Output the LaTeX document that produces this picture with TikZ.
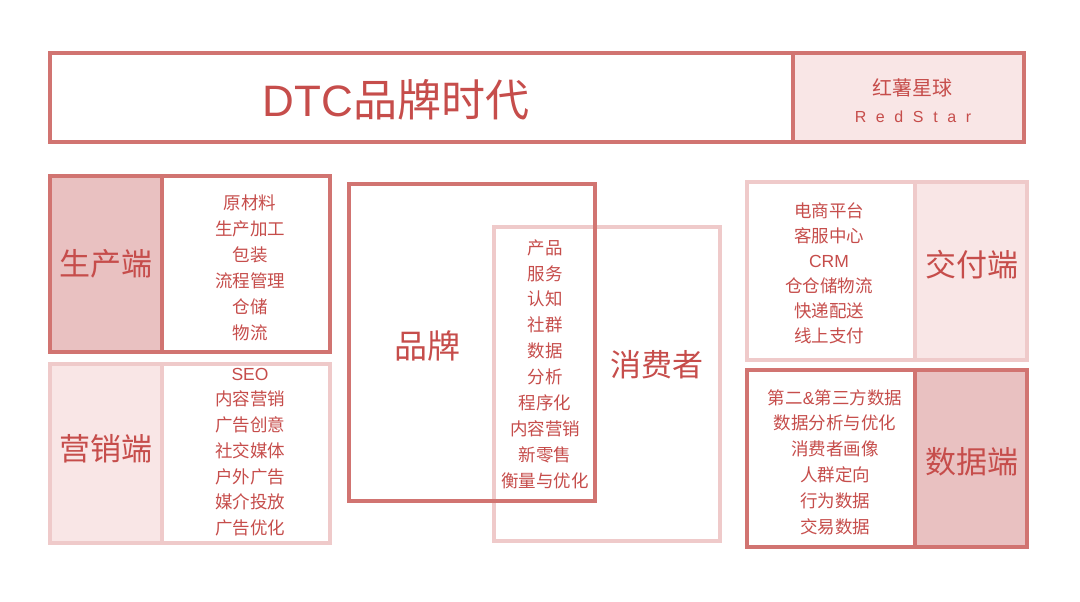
\documentclass[tikz,border=0pt]{standalone}
\usepackage{fontspec}
\setmainfont{Noto Sans CJK SC}
\newfontfamily\latinsp{Liberation Sans}[LetterSpace=60]
\newfontfamily\latn{Liberation Sans}
\definecolor{dk}{HTML}{D17471}
\definecolor{lt}{HTML}{EFCACA}
\definecolor{dfill}{HTML}{E9C1C1}
\definecolor{lfill}{HTML}{F9E6E6}
\definecolor{txt}{HTML}{C64D4B}
\begin{document}
\begin{tikzpicture}[x=1pt,y=-1pt,
  dkline/.style={draw=dk,line width=3.5pt},
  ltline/.style={draw=lt,line width=3.5pt},
  biglabel/.style={text=txt,inner sep=0pt,font=\fontsize{31}{31}\selectfont},
  itemlist/.style={text=txt,inner sep=0pt,align=center,font=\fontsize{17.5}{26}\selectfont}]
\useasboundingbox[fill=white] (0,0) rectangle (1080,602);
% top banner
\fill[lfill] (793,53) rectangle (1024,142);
\draw[dkline] (50,53) rectangle (1024,142);
\draw[dkline] (793,53) -- (793,142);
\node[text=txt,inner sep=0pt,font=\fontsize{44}{44}\selectfont] (title) at (396,100) {{\latn DTC}品牌时代};
\node[text=txt,inner sep=0pt,font=\fontsize{20}{20}\selectfont] (rs) at (912,88) {红薯星球};
\node[text=txt,inner sep=0pt,font=\latinsp\fontsize{16}{16}\selectfont] (rse) at (913,117) {RedStar};
% production
\fill[dfill] (50,176) rectangle (162,352);
\draw[dkline] (50,176) rectangle (330,352);
\draw[dkline] (162,176) -- (162,352);
\node[biglabel] (prod) at (106,264) {生产端};
\node[itemlist] (prodlist) at (250,268) {原材料\\生产加工\\包装\\流程管理\\仓储\\物流};
% marketing
\fill[lfill] (50,364) rectangle (162,543);
\draw[ltline] (50,364) rectangle (330,543);
\draw[ltline] (162,364) -- (162,543);
\node[biglabel] (mkt) at (106,449) {营销端};
\node[itemlist,font=\fontsize{17.5}{25.7}\selectfont] (mktlist) at (250,452) {{\latn SEO}\\内容营销\\广告创意\\社交媒体\\户外广告\\媒介投放\\广告优化};
% brand / consumer
\draw[ltline] (494,227) rectangle (720,541);
\draw[dkline] (349,184) rectangle (595,501);
\node[biglabel,font=\fontsize{33}{33}\selectfont] (brand) at (427,346) {品牌};
\node[biglabel] (cons) at (657,365) {消费者};
\node[itemlist,font=\fontsize{17.5}{25.9}\selectfont] (midlist) at (545,364) {产品\\服务\\认知\\社群\\数据\\分析\\程序化\\内容营销\\新零售\\衡量与优化};
% delivery
\fill[lfill] (915,182) rectangle (1027,360);
\draw[ltline] (747,182) rectangle (1027,360);
\draw[ltline] (915,182) -- (915,360);
\node[biglabel] (deliv) at (972,265) {交付端};
\node[itemlist,font=\fontsize{17.5}{25}\selectfont] (delivlist) at (829,273) {电商平台\\客服中心\\{\latn CRM}\\仓仓储物流\\快递配送\\线上支付};
% data
\fill[dfill] (915,370) rectangle (1027,547);
\draw[dkline] (747,370) rectangle (1027,547);
\draw[dkline] (915,370) -- (915,547);
\node[biglabel] (data) at (972,462) {数据端};
\node[itemlist,font=\fontsize{17.5}{25.8}\selectfont] (datalist) at (835,462) {第二{\latn\&}第三方数据\\数据分析与优化\\消费者画像\\人群定向\\行为数据\\交易数据};
\end{tikzpicture}
\end{document}
